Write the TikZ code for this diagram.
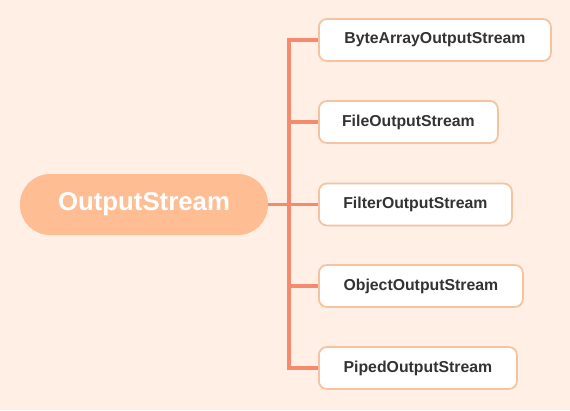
\documentclass[tikz,border=0pt]{standalone}
\usepackage{fontspec}
\setmainfont{Liberation Sans}

\definecolor{bgpeach}{HTML}{FFEFE4}
\definecolor{rootfill}{HTML}{FFBD93}
\definecolor{branchline}{HTML}{F58A6C}
\definecolor{leafline}{HTML}{F6C3A0}
\definecolor{leaftext}{HTML}{333333}

\begin{document}
\begin{tikzpicture}[x=0.03cm, y=-0.03cm,
  root/.style={fill=rootfill, text=white, font=\bfseries\fontsize{22}{26}\selectfont,
    rounded corners=0.9cm, minimum width=7.44cm, minimum height=1.83cm, inner sep=0pt},
  leaf/.style={draw=leafline, line width=1.5pt, fill=white, text=leaftext,
    font=\bfseries\fontsize{13.5}{16}\selectfont, rounded corners=0.24cm,
    minimum height=1.26cm, minimum width=#1, inner sep=0pt, anchor=west},
  branch/.style={draw=branchline, line width=2.6pt}]
  % Page
  \fill[bgpeach] (0,0) rectangle (570,410);
  \useasboundingbox (0,0) rectangle (570,410);
  % Root
  \node[root] (os) at (144,204.5) {OutputStream};
  % Subclasses
  \node[leaf=6.96cm] (bytearray) at (318,40) {ByteArrayOutputStream};
  \node[leaf=5.37cm] (file) at (318,122) {FileOutputStream};
  \node[leaf=5.79cm] (filter) at (318,204.5) {FilterOutputStream};
  \node[leaf=6.12cm] (object) at (318,286) {ObjectOutputStream};
  \node[leaf=5.94cm] (piped) at (318,368) {PipedOutputStream};
  % Tree lines
  \coordinate (trunk) at (289,204.5);
  \draw[branch] (os.east) -- (trunk);
  \draw[branch] (bytearray.west) -| (trunk) |- (piped.west);
  \foreach \n in {file,filter,object}
    \draw[branch] (trunk |- \n.west) -- (\n.west);
\end{tikzpicture}
\end{document}
